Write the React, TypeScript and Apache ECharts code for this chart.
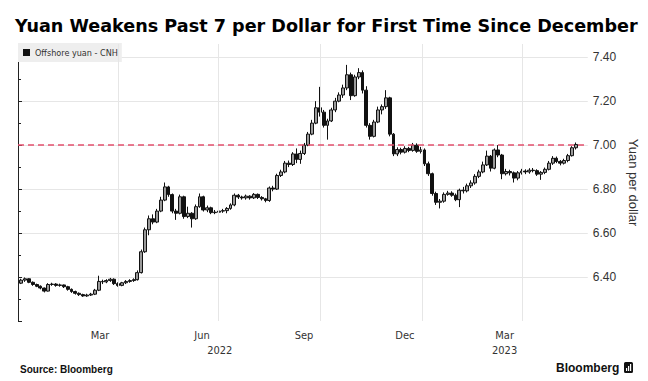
import React, { useEffect, useRef } from 'react';
import * as echarts from 'echarts';

const TITLE = 'Yuan Weakens Past 7 per Dollar for First Time Since December';
const SERIES_NAME = 'Offshore yuan - CNH';
const Y_NAME = 'Yuan per dollar';
const SOURCE = 'Source: Bloomberg';
const BRAND = 'Bloomberg';

// Two candles per week: Mon-Wed and Thu-Fri
const FIRST_MONDAY = '2022-01-03';
const CANDLE_DAY_OFFSETS = [0.75, 4.25];

const opens = [
  6.372, 6.386, 6.392, 6.376, 6.366, 6.358, 6.350, 6.336, 6.366, 6.368, 6.362, 6.364, 6.356, 6.344, 6.334, 6.326,
  6.320, 6.314, 6.318, 6.322, 6.340, 6.380, 6.378, 6.384, 6.390, 6.370, 6.362, 6.374, 6.380, 6.384, 6.388, 6.420,
  6.515, 6.615, 6.665, 6.650, 6.700, 6.750, 6.810, 6.775, 6.700, 6.690, 6.765, 6.675, 6.690, 6.665, 6.720, 6.765,
  6.705, 6.715, 6.693, 6.695, 6.700, 6.702, 6.712, 6.728, 6.772, 6.764, 6.760, 6.768, 6.760, 6.776, 6.762, 6.756,
  6.748, 6.805, 6.800, 6.862, 6.878, 6.918, 6.912, 6.960, 6.935, 6.962, 7.000, 7.050, 7.100, 7.170, 7.150, 7.090,
  7.110, 7.160, 7.200, 7.228, 7.260, 7.320, 7.225, 7.310, 7.330, 7.250, 7.090, 7.040, 7.105, 7.160, 7.175, 7.215,
  7.050, 6.960, 6.980, 6.968, 6.985, 6.976, 7.000, 6.972, 6.978, 6.915, 6.870, 6.780, 6.740, 6.745, 6.776, 6.782,
  6.772, 6.752, 6.795, 6.792, 6.815, 6.828, 6.858, 6.878, 6.910, 6.950, 6.895, 6.978, 6.955, 6.870, 6.880, 6.874,
  6.850, 6.874, 6.882, 6.878, 6.886, 6.884, 6.868, 6.876, 6.890, 6.918, 6.940, 6.926, 6.918, 6.930, 6.952, 6.988,
];

const closes = [
  6.386, 6.392, 6.376, 6.366, 6.358, 6.350, 6.336, 6.366, 6.368, 6.362, 6.364, 6.356, 6.344, 6.334, 6.326, 6.320,
  6.314, 6.318, 6.322, 6.340, 6.380, 6.378, 6.384, 6.390, 6.370, 6.362, 6.374, 6.380, 6.384, 6.388, 6.420, 6.515,
  6.615, 6.665, 6.650, 6.700, 6.750, 6.810, 6.775, 6.700, 6.690, 6.765, 6.675, 6.690, 6.665, 6.720, 6.765, 6.705,
  6.715, 6.693, 6.695, 6.700, 6.702, 6.712, 6.728, 6.772, 6.764, 6.760, 6.768, 6.760, 6.776, 6.762, 6.756, 6.748,
  6.805, 6.800, 6.862, 6.878, 6.918, 6.912, 6.960, 6.935, 6.962, 7.000, 7.050, 7.100, 7.170, 7.150, 7.090, 7.110,
  7.160, 7.200, 7.228, 7.260, 7.320, 7.225, 7.310, 7.330, 7.250, 7.090, 7.040, 7.105, 7.160, 7.175, 7.215, 7.050,
  6.960, 6.980, 6.968, 6.985, 6.976, 7.000, 6.972, 6.978, 6.915, 6.870, 6.780, 6.740, 6.745, 6.776, 6.782, 6.772,
  6.752, 6.795, 6.792, 6.815, 6.828, 6.858, 6.878, 6.910, 6.950, 6.895, 6.978, 6.955, 6.870, 6.880, 6.874, 6.850,
  6.874, 6.882, 6.878, 6.886, 6.884, 6.868, 6.876, 6.890, 6.918, 6.940, 6.926, 6.918, 6.930, 6.952, 6.988, 7.003,
];

const lows = [
  6.368, 6.378, 6.372, 6.360, 6.354, 6.344, 6.330, 6.334, 6.360, 6.356, 6.356, 6.350, 6.338, 6.328, 6.320, 6.314,
  6.310, 6.310, 6.314, 6.318, 6.336, 6.368, 6.372, 6.378, 6.364, 6.356, 6.358, 6.368, 6.374, 6.378, 6.384, 6.416,
  6.510, 6.590, 6.640, 6.645, 6.695, 6.745, 6.765, 6.690, 6.660, 6.685, 6.665, 6.668, 6.625, 6.660, 6.715, 6.698,
  6.695, 6.686, 6.686, 6.690, 6.692, 6.690, 6.706, 6.722, 6.755, 6.752, 6.752, 6.752, 6.755, 6.755, 6.748, 6.740,
  6.742, 6.790, 6.796, 6.855, 6.872, 6.900, 6.905, 6.918, 6.915, 6.955, 6.995, 7.045, 7.095, 7.130, 7.080, 7.025,
  7.105, 7.150, 7.195, 7.215, 7.250, 7.205, 7.220, 7.300, 7.235, 7.080, 7.025, 7.035, 7.100, 7.140, 7.165, 7.040,
  6.950, 6.950, 6.958, 6.962, 6.968, 6.970, 6.965, 6.962, 6.905, 6.860, 6.770, 6.728, 6.712, 6.738, 6.770, 6.765,
  6.745, 6.718, 6.780, 6.785, 6.805, 6.820, 6.850, 6.872, 6.905, 6.880, 6.890, 6.945, 6.845, 6.862, 6.862, 6.830,
  6.840, 6.866, 6.868, 6.870, 6.876, 6.860, 6.842, 6.868, 6.885, 6.910, 6.918, 6.908, 6.912, 6.922, 6.948, 6.980,
];

const highs = [
  6.392, 6.398, 6.394, 6.380, 6.370, 6.362, 6.352, 6.372, 6.374, 6.372, 6.370, 6.366, 6.360, 6.348, 6.338, 6.330,
  6.324, 6.324, 6.328, 6.346, 6.406, 6.388, 6.390, 6.396, 6.394, 6.376, 6.378, 6.386, 6.390, 6.394, 6.430, 6.525,
  6.625, 6.680, 6.685, 6.710, 6.765, 6.830, 6.815, 6.780, 6.710, 6.775, 6.770, 6.720, 6.695, 6.730, 6.780, 6.770,
  6.725, 6.720, 6.705, 6.708, 6.710, 6.718, 6.735, 6.780, 6.778, 6.770, 6.775, 6.772, 6.782, 6.780, 6.768, 6.760,
  6.812, 6.815, 6.870, 6.888, 6.928, 6.930, 6.968, 6.985, 6.975, 7.010, 7.060, 7.115, 7.200, 7.265, 7.160, 7.120,
  7.170, 7.215, 7.240, 7.275, 7.365, 7.330, 7.320, 7.350, 7.340, 7.268, 7.100, 7.115, 7.175, 7.185, 7.250, 7.220,
  7.055, 6.990, 6.988, 6.995, 6.992, 7.010, 7.008, 6.992, 6.985, 6.925, 6.875, 6.788, 6.755, 6.785, 6.792, 6.790,
  6.780, 6.802, 6.810, 6.825, 6.840, 6.868, 6.888, 6.925, 6.975, 6.955, 6.985, 7.000, 6.960, 6.892, 6.888, 6.880,
  6.882, 6.892, 6.890, 6.895, 6.896, 6.890, 6.882, 6.898, 6.928, 6.950, 6.948, 6.932, 6.938, 6.960, 6.995, 7.012,
];

const THRESHOLD = 7.0;
const Y_MIN = 6.2;
const Y_MAX = 7.46;
const Y_STEP = 0.2;
const X_MIN = '2022-01-01';
const X_MAX = '2023-05-30';
const QUARTER_STARTS = ['2022-04-01', '2022-07-01', '2022-10-01', '2023-01-01', '2023-04-01'];
const MONTH_LABEL_DATES = ['2022-03-16', '2022-06-16', '2022-09-16', '2022-12-16', '2023-03-16'];
const MONTH_LABELS = ['Mar', 'Jun', 'Sep', 'Dec', 'Mar'];
const YEAR_LABEL_DATES = ['2022-07-02', '2023-03-16'];
const YEAR_LABELS = ['2022', '2023'];

const DAY = 86400000;
// x axis unit: days since X_MIN (UTC)
const dayOf = (s: string) => Math.round((Date.parse(s) - Date.parse(X_MIN)) / DAY);

function lookupLabel(v: number, dates: string[], labels: string[]) {
  for (let i = 0; i < dates.length; i++) {
    if (Math.abs(dayOf(dates[i]) - v) < 0.5) return labels[i];
  }
  return '';
}

export default function App() {
  const ref = useRef<HTMLDivElement>(null);
  useEffect(() => {
    if (!ref.current) return;
    const chart = echarts.init(ref.current, null, { renderer: 'svg' });
    const n = Math.min(opens.length, closes.length, lows.length, highs.length);
    const start = dayOf(FIRST_MONDAY);
    const rows: number[][] = [];
    for (let i = 0; i < n; i++) {
      const week = Math.floor(i / 2);
      const d = start + week * 7 + CANDLE_DAY_OFFSETS[i % 2];
      rows.push([d, opens[i], closes[i], lows[i], highs[i]]);
    }
    const narrow = "'DejaVu Sans Condensed', 'Liberation Sans Narrow', 'Liberation Sans', Arial, sans-serif";
    const regular = "'Liberation Sans', Arial, sans-serif";
    const xBase = {
      type: 'value',
      min: 0,
      max: dayOf(X_MAX),
      axisLine: { show: false },
      axisTick: { show: false },
      splitLine: { show: false },
    };
    const option: any = {
      animation: false,
      backgroundColor: '#ffffff',
      title: {
        text: TITLE,
        left: 15,
        top: 17,
        padding: 0,
        textStyle: { fontSize: 17.6, fontWeight: 'bold', color: '#000', fontFamily: "'DejaVu Sans', sans-serif" },
      },
      legend: {
        data: [{ name: SERIES_NAME, icon: 'rect', itemStyle: { color: '#111', borderWidth: 0 } }],
        left: 18,
        top: 43,
        padding: [5, 4, 5, 5],
        backgroundColor: '#eeeeee',
        itemWidth: 7,
        itemHeight: 7,
        selectedMode: false,
        textStyle: { fontSize: 9, color: '#333', fontFamily: narrow },
      },
      grid: { left: 18, right: 55, top: 44, bottom: 60, containLabel: false },
      xAxis: [
        {
          ...xBase,
          axisLabel: {
            customValues: MONTH_LABEL_DATES.map(dayOf),
            formatter: (v: number) => lookupLabel(v, MONTH_LABEL_DATES, MONTH_LABELS),
            color: '#333',
            fontSize: 11,
            fontFamily: narrow,
            margin: 9,
            hideOverlap: false,
          },
        },
        {
          ...xBase,
          position: 'bottom',
          axisLabel: {
            customValues: YEAR_LABEL_DATES.map(dayOf),
            formatter: (v: number) => lookupLabel(v, YEAR_LABEL_DATES, YEAR_LABELS),
            color: '#333',
            fontSize: 11,
            fontFamily: narrow,
            margin: 24,
            hideOverlap: false,
          },
        },
      ],
      yAxis: {
        type: 'value',
        position: 'right',
        min: Y_MIN,
        max: Y_MAX,
        interval: Y_STEP,
        name: Y_NAME,
        nameLocation: 'middle',
        nameRotate: -90,
        nameGap: 34,
        nameTextStyle: { fontSize: 13, color: '#333', fontFamily: regular },
        axisLine: { show: true, lineStyle: { color: '#222', width: 1 } },
        axisTick: { show: true, length: 4, lineStyle: { color: '#222' } },
        minorTick: { show: true, splitNumber: 2, length: 3, lineStyle: { color: '#222' } },
        splitLine: { show: true, showMinLine: false, showMaxLine: false, lineStyle: { color: '#e6e6e6', width: 1 } },
        axisLabel: {
          color: '#333',
          fontSize: 12,
          fontFamily: regular,
          margin: 5,
          formatter: (v: number) => {
            const k = v / Y_STEP;
            if (Math.abs(k - Math.round(k)) > 1e-6 || v < 6.3) return '';
            return v.toFixed(2);
          },
        },
      },
      series: [
        {
          type: 'line',
          name: 'grid-lines',
          data: [],
          z: 1,
          silent: true,
          markLine: {
            silent: true,
            symbol: ['none', 'none'],
            label: { show: false },
            lineStyle: { color: '#e6e6e6', type: 'solid', width: 1 },
            data: QUARTER_STARTS.map((d) => ({ xAxis: dayOf(d) })),
          },
        },
        {
          type: 'candlestick',
          name: SERIES_NAME,
          data: rows,
          encode: { x: 0, y: [1, 2, 3, 4] },
          barWidth: 3.4,
          z: 3,
          itemStyle: {
            color: '#9a9a9a',
            color0: '#111111',
            borderColor: '#111111',
            borderColor0: '#111111',
            borderWidth: 1,
          },
        },
        {
          type: 'line',
          name: 'threshold',
          data: [],
          z: 5,
          silent: true,
          markLine: {
            silent: true,
            symbol: ['none', 'none'],
            label: { show: false },
            lineStyle: { color: '#e4506e', type: [6, 4], width: 1.5 },
            data: [{ yAxis: THRESHOLD }],
          },
        },
      ],
      graphic: [
        {
          type: 'text',
          left: 20,
          top: 364,
          style: { text: SOURCE, fontSize: 10, fontWeight: 'bold', fill: '#111', fontFamily: regular },
        },
        {
          type: 'text',
          left: 556,
          top: 362,
          style: { text: BRAND, fontSize: 12, fontWeight: 'bold', fill: '#111', fontFamily: regular },
        },
        {
          type: 'group',
          left: 624,
          top: 362,
          children: [
            { type: 'rect', shape: { x: 0, y: 0, width: 9, height: 11, r: 1.5 }, style: { fill: '#111' } },
            { type: 'rect', shape: { x: 2, y: 6, width: 1.2, height: 3 }, style: { fill: '#fff' } },
            { type: 'rect', shape: { x: 4, y: 4, width: 1.2, height: 5 }, style: { fill: '#fff' } },
            { type: 'rect', shape: { x: 6, y: 2, width: 1.2, height: 7 }, style: { fill: '#fff' } },
          ],
        },
      ],
    };
    chart.setOption(option);
    return () => chart.dispose();
  }, []);
  return (
    <div
      ref={ref}
      style={{ position: 'fixed', left: 0, top: 0, width: 648, height: 381, background: '#fff' }}
    />
  );
}
